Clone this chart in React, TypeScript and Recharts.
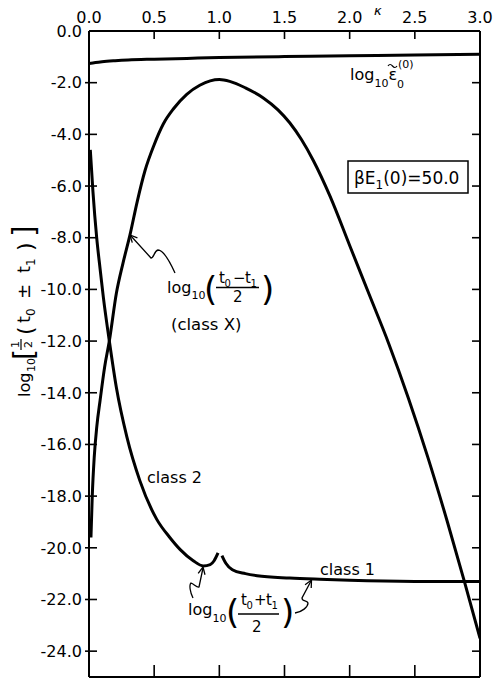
import React from 'react';
import { LineChart, Line, XAxis, YAxis, Customized } from 'recharts';

// ---- data ----
const kappaTicks = [0, 0.5, 1.0, 1.5, 2.0, 2.5, 3.0];
const valueTicks = [0, -2, -4, -6, -8, -10, -12, -14, -16, -18, -20, -22, -24];

const epsKappa = [0, 0.05, 0.1, 0.2, 0.3, 0.5, 0.75, 1.0, 1.5, 2.0, 2.5, 3.0];
const epsValue = [-1.26, -1.22, -1.19, -1.15, -1.12, -1.09, -1.06, -1.03, -0.99, -0.96, -0.93, -0.9];

const classXKappa = [0.015, 0.025, 0.04, 0.06, 0.085, 0.12, 0.156, 0.21, 0.26, 0.314, 0.37, 0.43, 0.5, 0.57, 0.65, 0.75, 0.85, 0.93, 1.0, 1.08, 1.2, 1.34, 1.45, 1.54, 1.63, 1.72, 1.85, 2.0, 2.15, 2.3, 2.45, 2.6, 2.75, 2.88, 3.0];
const classXValue = [-19.6, -18.0, -16.5, -15.3, -14.3, -13.0, -12.0, -10.15, -9.0, -7.9, -6.6, -5.4, -4.4, -3.6, -3.0, -2.45, -2.1, -1.93, -1.88, -1.95, -2.2, -2.6, -3.05, -3.55, -4.2, -5.0, -6.4, -8.3, -10.2, -12.1, -14.2, -16.5, -19.0, -21.3, -23.5];

const class2Kappa = [0.01, 0.03, 0.059, 0.085, 0.11, 0.156, 0.21, 0.29, 0.39, 0.52, 0.62, 0.7, 0.8, 0.877, 0.93, 0.96, 0.99];
const class2Value = [-4.6, -6.2, -8.0, -9.2, -10.3, -12.0, -13.8, -15.7, -17.4, -18.9, -19.6, -20.07, -20.5, -20.7, -20.65, -20.5, -20.2];

const class1Kappa = [1.02, 1.05, 1.1, 1.2, 1.29, 1.54, 1.77, 2.0, 2.5, 3.0];
const class1Value = [-20.3, -20.6, -20.85, -21.0, -21.08, -21.17, -21.22, -21.26, -21.3, -21.3];

const rows = (k: number[], v: number[]) => k.map((x, i) => ({ k: x, v: v[i] }));

const FONT = 'DejaVu Sans';
const fmt = (v: number) => (v === 0 ? '0.0' : '-' + Math.abs(v).toFixed(1));

const TopTick = (p: any) => {
  const { x, y, payload } = p;
  return (
    <g>
      <line x1={x} x2={x} y1={y} y2={y + 8} stroke="#000" strokeWidth={1.6} />
      <text x={x} y={y - 8} textAnchor="middle" fontFamily={FONT} fontSize={16} fill="#000">
        {payload.value.toFixed(1)}
      </text>
    </g>
  );
};
const BottomTick = (p: any) => {
  const { x, y } = p;
  return <line x1={x} x2={x} y1={y} y2={y - 12} stroke="#000" strokeWidth={1.6} />;
};
const LeftTick = (p: any) => {
  const { x, y, payload } = p;
  return (
    <g>
      {payload.value !== 0 && <line x1={x - 4} x2={x + 8} y1={y} y2={y} stroke="#000" strokeWidth={1.6} />}
      <text x={x - 7} y={y} dy="0.36em" textAnchor="end" fontFamily={FONT} fontSize={16} fill="#000">
        {fmt(payload.value)}
      </text>
    </g>
  );
};
const RightTick = (p: any) => {
  const { x, y, payload } = p;
  if (payload.value === 0) return <g />;
  return <line x1={x} x2={x - 8} y1={y} y2={y} stroke="#000" strokeWidth={1.6} />;
};

const head = (tx: number, ty: number, fx: number, fy: number) => {
  const a = Math.atan2(fy - ty, fx - tx);
  const L = 8;
  const d = 0.45;
  return `M${tx + L * Math.cos(a + d)},${ty + L * Math.sin(a + d)} L${tx},${ty} L${tx + L * Math.cos(a - d)},${ty + L * Math.sin(a - d)}`;
};

const T = (props: any) => <text fontFamily={FONT} fill="#000" {...props} />;

const Annotations = () => (
  <g>
    {/* y-axis label */}
    <g transform="translate(30,397) rotate(-90)">
      <T x={0} y={0} fontSize={16}>log</T>
      <T x={25} y={5} fontSize={11}>10</T>
      <T x={37} y={4} fontSize={28}>[</T>
      <T x={49} y={-11} fontSize={11}>1</T>
      <line x1={47} x2={58} y1={-9} y2={-9} stroke="#000" strokeWidth={1.2} />
      <T x={49} y={2} fontSize={11}>2</T>
      <T x={62} y={3} fontSize={22}>(</T>
      <T x={74} y={0} fontSize={18}>t</T>
      <T x={81} y={5} fontSize={12}>0</T>
      <T x={98} y={0} fontSize={18}>±</T>
      <T x={124} y={0} fontSize={18}>t</T>
      <T x={131} y={5} fontSize={12}>1</T>
      <T x={146} y={3} fontSize={22}>)</T>
      <T x={160} y={4} fontSize={30}>]</T>
    </g>
    {/* kappa */}
    <T x={374} y={15} fontSize={13} fontStyle="italic">κ</T>
    {/* epsilon label */}
    <T x={350} y={80} fontSize={16}>log<tspan dy={7} fontSize={11}>10</tspan><tspan dy={-7}>ε</tspan></T>
    <path d="M388,66 q2,-3 4.5,0 t4.5,0" fill="none" stroke="#000" strokeWidth={1.2} />
    <T x={397} y={88} fontSize={11}>0</T>
    <T x={398} y={68} fontSize={11}>(0)</T>
    {/* box */}
    <rect x={348} y={161} width={120} height={32} fill="none" stroke="#000" strokeWidth={1.5} />
    <T x={354} y={184} fontSize={17}>βE<tspan dy={5} fontSize={12}>1</tspan><tspan dy={-5}>(0)=50.0</tspan></T>
    {/* class X label */}
    <T x={167} y={293} fontSize={16}>log<tspan dy={6} fontSize={11}>10</tspan></T>
    <T x={204} y={301} fontSize={34}>(</T>
    <T x={219} y={283} fontSize={15}>t</T>
    <T x={224.5} y={287} fontSize={10}>0</T>
    <T x={233} y={283} fontSize={15}>−</T>
    <T x={245} y={283} fontSize={15}>t</T>
    <T x={250.5} y={287} fontSize={10}>1</T>
    <line x1={216} x2={259} y1={287.5} y2={287.5} stroke="#000" strokeWidth={1.3} />
    <T x={233} y={302} fontSize={15}>2</T>
    <T x={261} y={301} fontSize={34}>)</T>
    <T x={171} y={330} fontSize={16.5}>(class X)</T>
    <path d="M175,273 C170,262 164,250 158,250 C154,251 154,258 151,258 L131,236" fill="none" stroke="#000" strokeWidth={1.3} />
    <path d={head(130, 235, 151, 258)} fill="none" stroke="#000" strokeWidth={1.3} />
    {/* class 2 / class 1 */}
    <T x={147} y={483} fontSize={16}>class  2</T>
    <T x={320} y={575} fontSize={16}>class  1</T>
    {/* t0+t1 label */}
    <T x={188} y={615} fontSize={16}>log<tspan dy={7} fontSize={11}>10</tspan></T>
    <T x={226} y={624} fontSize={34}>(</T>
    <T x={241} y={605} fontSize={15}>t</T>
    <T x={246.5} y={609} fontSize={10}>0</T>
    <T x={254} y={605} fontSize={15}>+</T>
    <T x={266} y={605} fontSize={15}>t</T>
    <T x={271.5} y={609} fontSize={10}>1</T>
    <line x1={238} x2={279} y1={614} y2={614} stroke="#000" strokeWidth={1.3} />
    <T x={252} y={632} fontSize={15}>2</T>
    <T x={281} y={624} fontSize={34}>)</T>
    <path d="M193,598 C190,592 189,585 191,583 C194,584 197,588 199,587 L203,568" fill="none" stroke="#000" strokeWidth={1.3} />
    <path d={head(203, 567, 199, 587)} fill="none" stroke="#000" strokeWidth={1.3} />
    <path d="M295,613 C302,612 308,607 308,603 C307,600 302,602 302,598 L311,581" fill="none" stroke="#000" strokeWidth={1.3} />
    <path d={head(311.5, 580, 302, 598)} fill="none" stroke="#000" strokeWidth={1.3} />
  </g>
);

const axisLine = { stroke: '#000', strokeWidth: 2 };

export default function App() {
  return (
    <div style={{ position: 'absolute', left: 0, top: 0, width: 494, height: 679, background: '#fff' }}>
      <LineChart width={494} height={679} margin={{ top: 0, right: 0, bottom: 0, left: 0 }}>
        <XAxis xAxisId="t" type="number" dataKey="k" domain={[0, 3]} ticks={kappaTicks} interval={0}
          orientation="top" height={31} axisLine={axisLine} tickLine={false} tickSize={0} tickMargin={0}
          tick={<TopTick />} allowDataOverflow />
        <XAxis xAxisId="b" type="number" dataKey="k" domain={[0, 3]} ticks={kappaTicks} interval={0}
          orientation="bottom" height={2} axisLine={axisLine} tickLine={false} tickSize={0} tickMargin={0}
          tick={<BottomTick />} allowDataOverflow />
        <YAxis yAxisId="l" type="number" domain={[-25, 0]} ticks={valueTicks} interval={0}
          orientation="left" width={89} axisLine={axisLine} tickLine={false} tickSize={0} tickMargin={0}
          tick={<LeftTick />} allowDataOverflow />
        <YAxis yAxisId="r" type="number" domain={[-25, 0]} ticks={valueTicks} interval={0}
          orientation="right" width={14} axisLine={axisLine} tickLine={false} tickSize={0} tickMargin={0}
          tick={<RightTick />} allowDataOverflow />
        <Line xAxisId="t" yAxisId="l" data={rows(epsKappa, epsValue)} dataKey="v" type="monotone" stroke="#000" strokeWidth={3} dot={false} isAnimationActive={false} />
        <Line xAxisId="t" yAxisId="l" data={rows(classXKappa, classXValue)} dataKey="v" type="monotone" stroke="#000" strokeWidth={3} dot={false} isAnimationActive={false} />
        <Line xAxisId="t" yAxisId="l" data={rows(class2Kappa, class2Value)} dataKey="v" type="monotone" stroke="#000" strokeWidth={3} dot={false} isAnimationActive={false} />
        <Line xAxisId="t" yAxisId="l" data={rows(class1Kappa, class1Value)} dataKey="v" type="monotone" stroke="#000" strokeWidth={3} dot={false} isAnimationActive={false} />
        <Line xAxisId="b" yAxisId="r" data={rows(epsKappa, epsValue)} dataKey="v" stroke="none" strokeWidth={0} dot={false} activeDot={false} legendType="none" isAnimationActive={false} />
        <Customized component={<Annotations />} />
      </LineChart>
    </div>
  );
}
